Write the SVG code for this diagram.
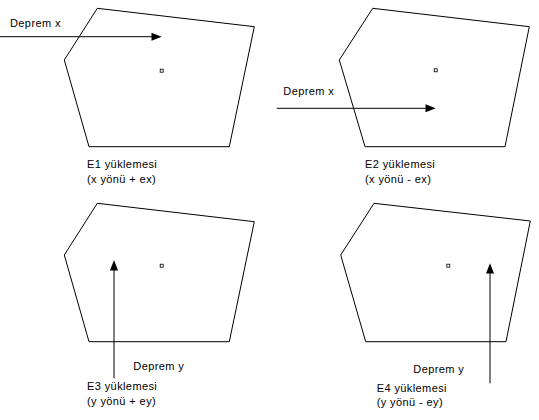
<svg xmlns="http://www.w3.org/2000/svg" width="539" height="420" viewBox="0 0 539 420">
<style>
.plan{fill:none;stroke:#000;stroke-width:1}
.dot{fill:#fff;stroke:#000;stroke-width:0.8}
.ar{stroke:#000;stroke-width:1;fill:none}
.head{fill:#000}
text{font-family:"Liberation Sans",Arial,sans-serif;font-size:11px;letter-spacing:0.4px;fill:#000}
</style>
<rect width="539" height="420" fill="#fff"/>
<g id="panel1">
<polygon class="plan" points="97.3,8.3 254.3,26.7 229.3,146.7 89,146.7 64.3,60"/>
<rect class="dot" x="160.2" y="69.2" width="3" height="3"/>
<text x="10" y="27">Deprem x</text>
<text x="87" y="168">E1 yüklemesi</text>
<text x="87" y="183">(x yönü + ex)</text>
</g>
<g id="panel2">
<polygon class="plan" points="372.7,8.3 529.3,26.7 505,146.7 365,146.7 339.3,60"/>
<rect class="dot" x="434.2" y="68.8" width="3" height="3"/>
<text x="283.3" y="95">Deprem x</text>
<text x="365" y="168">E2 yüklemesi</text>
<text x="365" y="183">(x yönü - ex)</text>
</g>
<g id="panel3">
<polygon class="plan" points="97.3,203.3 254.3,221.7 229.3,341.7 89,341.7 64.3,255"/>
<rect class="dot" x="160.2" y="264.2" width="3" height="3"/>
<text x="133.3" y="370">Deprem y</text>
<text x="87" y="390">E3 yüklemesi</text>
<text x="87" y="405">(y yönü + ey)</text>
</g>
<g id="panel4">
<polygon class="plan" points="374,203.3 530.3,221 506,341.7 365.7,341.7 340.7,255"/>
<rect class="dot" x="446.8" y="264.2" width="3" height="3"/>
<text x="413.3" y="373">Deprem y</text>
<text x="376.7" y="392">E4 yüklemesi</text>
<text x="376.7" y="406">(y yönü - ey)</text>
</g>
<g id="connectors">
<line class="ar" x1="0" y1="36.7" x2="152" y2="36.7"/>
<polygon class="head" points="151.5,32.7 161.7,36.7 151.5,40.7"/>
<line class="ar" x1="276.7" y1="108.3" x2="426" y2="108.3"/>
<polygon class="head" points="425.5,104.3 435.7,108.3 425.5,112.3"/>
<line class="ar" x1="114" y1="378.3" x2="114" y2="270"/>
<polygon class="head" points="110,270.5 114,260 118,270.5"/>
<line class="ar" x1="490" y1="383.3" x2="490" y2="273"/>
<polygon class="head" points="486,273.5 490,263.3 494,273.5"/>
</g>
</svg>
